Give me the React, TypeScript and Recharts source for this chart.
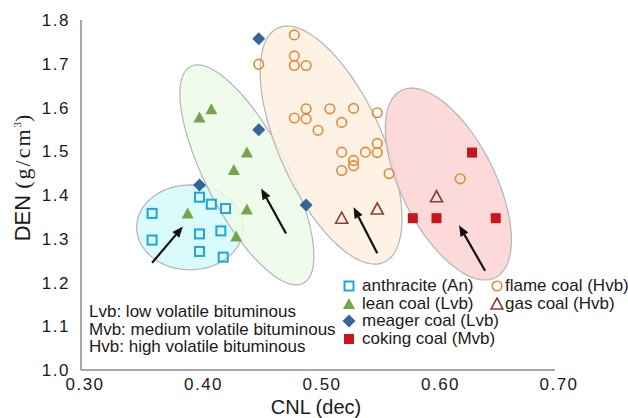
import React from 'react'
import { ScatterChart, Scatter, XAxis, YAxis, ReferenceArea, ReferenceLine } from 'recharts'

const SANS = '"Liberation Sans", Arial, sans-serif'
const SERIF = '"Liberation Serif", "Times New Roman", serif'

const X_TICKS = [0.3, 0.4, 0.5, 0.6, 0.7]
const Y_TICKS = [1.0, 1.1, 1.2, 1.3, 1.4, 1.5, 1.6, 1.7, 1.8]

// CNL / DEN values
const anthraciteCnl = [0.36, 0.36, 0.4, 0.41, 0.422, 0.4, 0.418, 0.4, 0.42]
const anthraciteDen = [1.358, 1.297, 1.395, 1.379, 1.369, 1.311, 1.318, 1.271, 1.258]

const leanCnl = [0.4, 0.41, 0.44, 0.429, 0.44, 0.39, 0.431]
const leanDen = [1.577, 1.596, 1.497, 1.457, 1.367, 1.358, 1.305]

const meagerCnl = [0.45, 0.45, 0.4, 0.49]
const meagerDen = [1.757, 1.549, 1.423, 1.377]

const cokingCnl = [0.63, 0.58, 0.6, 0.65]
const cokingDen = [1.497, 1.347, 1.347, 1.347]

const flameCnl = [0.45, 0.48, 0.48, 0.48, 0.49, 0.49, 0.48, 0.49, 0.5, 0.51, 0.52, 0.53, 0.55, 0.52, 0.53, 0.53, 0.52, 0.54, 0.55, 0.55, 0.56, 0.62]
const flameDen = [1.699, 1.766, 1.718, 1.696, 1.696, 1.597, 1.576, 1.574, 1.548, 1.597, 1.566, 1.598, 1.588, 1.498, 1.479, 1.467, 1.456, 1.498, 1.518, 1.497, 1.449, 1.437]

const gasCnl = [0.6, 0.55, 0.52]
const gasDen = [1.396, 1.368, 1.347]

// ellipses: centre, major and minor half-axis vectors (data units)
const ellipseCenters = [[0.392, 1.326], [0.44, 1.446], [0.511, 1.514], [0.61, 1.425]]
const ellipseMajor = [[0.045, 0], [0.0476, -0.2478], [0.0448, -0.2677], [0.0397, -0.214]]
const ellipseMinor = [[0, 0.097], [-0.0305, -0.043], [-0.0397, -0.0488], [-0.0354, -0.0482]]
const ellipseFills = ['#d2fafb', '#ecfbe8', '#fdf0df', '#fcd4d4']

// arrows: tail -> tip (data units)
const arrowTails = [[0.36, 1.245], [0.473, 1.312], [0.55, 1.267], [0.641, 1.227]]
const arrowTips = [[0.386, 1.328], [0.452, 1.415], [0.53, 1.372], [0.619, 1.331]]

const notes = ['Lvb: low volatile bituminous', 'Mvb: medium volatile bituminous', 'Hvb: high volatile bituminous']

const pts = (xs: number[], ys: number[]) => xs.map((x, i) => ({ x, y: ys[i] }))

type Mark = (cx: number, cy: number) => React.ReactElement

const openSquare: Mark = (cx, cy) => <rect x={cx - 4.5} y={cy - 4.5} width={9} height={9} fill="none" stroke="#1ca6d6" strokeWidth={2} />
const greenTriangle: Mark = (cx, cy) => <polygon points={`${cx},${cy - 6} ${cx + 6},${cy + 5} ${cx - 6},${cy + 5}`} fill="#76a34b" />
const diamond: Mark = (cx, cy) => <polygon points={`${cx},${cy - 6.5} ${cx + 6.5},${cy} ${cx},${cy + 6.5} ${cx - 6.5},${cy}`} fill="#33649a" />
const redSquare: Mark = (cx, cy) => <rect x={cx - 5} y={cy - 5} width={10} height={10} fill="#c8141c" />
const openCircle: Mark = (cx, cy) => <circle cx={cx} cy={cy} r={4.8} fill="none" stroke="#e08a3c" strokeWidth={1.6} />
const openTriangle: Mark = (cx, cy) => <polygon points={`${cx},${cy - 6} ${cx + 6},${cy + 5} ${cx - 6},${cy + 5}`} fill="none" stroke="#8e3a3a" strokeWidth={1.6} />

const series = [
  { name: 'anthracite (An)', data: pts(anthraciteCnl, anthraciteDen), mark: openSquare },
  { name: 'lean coal (Lvb)', data: pts(leanCnl, leanDen), mark: greenTriangle },
  { name: 'meager coal (Lvb)', data: pts(meagerCnl, meagerDen), mark: diamond },
  { name: 'coking coal (Mvb)', data: pts(cokingCnl, cokingDen), mark: redSquare },
  { name: 'flame coal (Hvb)', data: pts(flameCnl, flameDen), mark: openCircle },
  { name: 'gas coal (Hvb)', data: pts(gasCnl, gasDen), mark: openTriangle },
]

function ellipseBox(i: number) {
  const [cx, cy] = ellipseCenters[i]
  const [ux, uy] = ellipseMajor[i]
  const [vx, vy] = ellipseMinor[i]
  const hw = Math.sqrt(ux * ux + vx * vx)
  const hh = Math.sqrt(uy * uy + vy * vy)
  return { x1: cx - hw, x2: cx + hw, y1: cy - hh, y2: cy + hh }
}

function ellipseShape(i: number) {
  return (props: any) => {
    const box = ellipseBox(i)
    const kx = props.width / (box.x2 - box.x1)
    const ky = props.height / (box.y2 - box.y1)
    const [cx, cy] = ellipseCenters[i]
    const [ux, uy] = ellipseMajor[i]
    const [vx, vy] = ellipseMinor[i]
    let d = ''
    for (let k = 0; k <= 96; k++) {
      const t = (k / 96) * Math.PI * 2
      const dx = cx + ux * Math.cos(t) + vx * Math.sin(t)
      const dy = cy + uy * Math.cos(t) + vy * Math.sin(t)
      const px = props.x + (dx - box.x1) * kx
      const py = props.y + (box.y2 - dy) * ky
      d += (k === 0 ? 'M' : 'L') + px.toFixed(2) + ',' + py.toFixed(2)
    }
    return <path d={d + 'Z'} fill={ellipseFills[i]} fillOpacity={0.85} stroke="#b4b4b4" strokeWidth={1.2} />
  }
}

function ArrowShape(props: any) {
  const { x1, y1, x2, y2 } = props
  const ang = Math.atan2(y2 - y1, x2 - x1)
  const len = 11
  const half = 4.5
  const bx = x2 - len * Math.cos(ang)
  const by = y2 - len * Math.sin(ang)
  const nx = -Math.sin(ang)
  const ny = Math.cos(ang)
  return (
    <g>
      <line x1={x1} y1={y1} x2={bx} y2={by} stroke="#111" strokeWidth={2.2} />
      <polygon points={`${x2},${y2} ${bx + nx * half},${by + ny * half} ${bx - nx * half},${by - ny * half}`} fill="#111" />
    </g>
  )
}

function XTitle(props: any) {
  const vb = props.viewBox
  return (
    <text x={vb.x + vb.width / 2 - 2} y={vb.y + 44} textAnchor="middle" fontFamily={SANS} fontSize={20} fill="#1a1a1a">
      CNL (dec)
    </text>
  )
}

function YTitle(props: any) {
  const vb = props.viewBox
  const x = vb.x + 30
  const y = vb.y + vb.height / 2 - 17
  return (
    <text x={x} y={y} transform={`rotate(-90 ${x} ${y})`} textAnchor="middle" fill="#1a1a1a">
      <tspan fontFamily={SANS} fontSize={22}>DEN </tspan>
      <tspan fontFamily={SERIF} fontSize={22} letterSpacing={2}>(g/cm</tspan>
      <tspan fontFamily={SERIF} fontSize={11} dy={-9}>3</tspan>
      <tspan fontFamily={SERIF} fontSize={22} dy={9}>)</tspan>
    </text>
  )
}

const legendCols = [
  { markX: 349, textX: 362, top: 286, items: series.slice(0, 4) },
  { markX: 497, textX: 505, top: 286, items: series.slice(4) },
]

const textStyle: React.CSSProperties = { position: 'absolute', fontFamily: SANS, fontSize: 17, color: '#1a1a1a', whiteSpace: 'nowrap', lineHeight: '17.5px' }

export default function App() {
  return (
    <div style={{ position: 'absolute', left: 0, top: 0, width: 628, height: 418, background: '#fff' }}>
      <ScatterChart width={628} height={418} margin={{ top: 20, right: 73, bottom: 0, left: 0 }}>
        <XAxis
          type="number"
          dataKey="x"
          domain={[0.3, 0.7]}
          ticks={X_TICKS}
          interval={0}
          allowDataOverflow
          tickFormatter={(v: number) => v.toFixed(2)}
          tickLine={false}
          tickMargin={2}
          axisLine={{ stroke: '#8a8a8a', strokeWidth: 1.5 }}
          tick={{ fill: '#1a1a1a', fontSize: 17, fontFamily: SANS, letterSpacing: 1.5, dx: 4 }}
          height={48}
          label={{ content: XTitle }}
        />
        <YAxis
          type="number"
          dataKey="y"
          domain={[1.0, 1.8]}
          ticks={Y_TICKS}
          interval={0}
          allowDataOverflow
          tickFormatter={(v: number) => v.toFixed(1)}
          tickLine={false}
          tickMargin={5}
          axisLine={{ stroke: '#8a8a8a', strokeWidth: 1.5 }}
          tick={{ fill: '#1a1a1a', fontSize: 17, fontFamily: SANS, letterSpacing: 1.5 }}
          width={81}
          label={{ content: YTitle }}
        />
        {ellipseCenters.map((_, i) => {
          const b = ellipseBox(i)
          return <ReferenceArea key={'e' + i} x1={b.x1} x2={b.x2} y1={b.y1} y2={b.y2} ifOverflow="visible" shape={ellipseShape(i)} />
        })}
        {arrowTails.map((t, i) => (
          <ReferenceLine
            key={'a' + i}
            segment={[{ x: t[0], y: t[1] }, { x: arrowTips[i][0], y: arrowTips[i][1] }]}
            ifOverflow="visible"
            shape={ArrowShape}
          />
        ))}
        {series.map((s) => (
          <Scatter
            key={s.name}
            name={s.name}
            data={s.data}
            isAnimationActive={false}
            shape={(p: any) => s.mark(p.cx, p.cy)}
          />
        ))}
      </ScatterChart>

      {legendCols.map((col, ci) =>
        col.items.map((s, ri) => {
          const cy = col.top + ri * 17.5
          return (
            <React.Fragment key={ci + '-' + ri}>
              <svg style={{ position: 'absolute', left: col.markX - 7, top: cy - 7 }} width={14} height={14}>
                {s.mark(7, 7)}
              </svg>
              <div style={{ ...textStyle, left: col.textX, top: cy - 9 }}>{s.name}</div>
            </React.Fragment>
          )
        })
      )}
      {notes.map((n, i) => (
        <div key={n} style={{ ...textStyle, left: 89, top: 312 + i * 17.5 - 9 }}>
          {n}
        </div>
      ))}
    </div>
  )
}
